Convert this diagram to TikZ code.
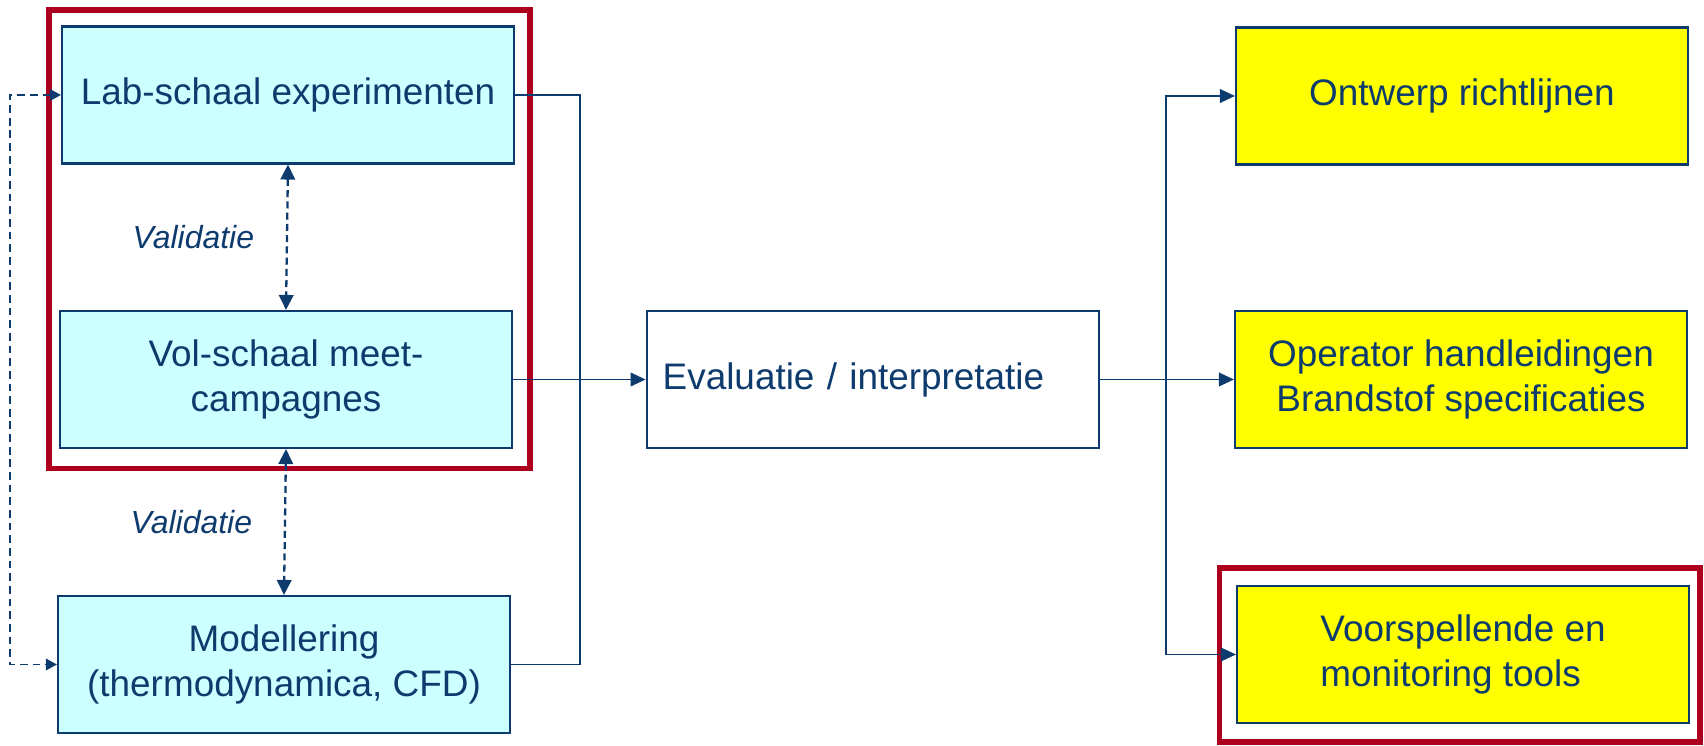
\documentclass[tikz,border=0pt]{standalone}
\usepackage{fontspec}
\setmainfont{Liberation Sans}
\usetikzlibrary{arrows.meta,positioning,calc}
\definecolor{cNavy}{HTML}{0E3B6E}
\definecolor{cCyan}{HTML}{CCFFFF}
\definecolor{cYel}{HTML}{FFFF00}
\definecolor{cRed}{HTML}{AD001F}
\tikzset{
  blk/.style={draw=cNavy, line width=0.6pt, text=cNavy, minimum width=4.52cm,
              minimum height=1.37cm, inner sep=2pt, align=center,
              font=\fontsize{10.5}{12.6}\selectfont},
  labblk/.style={blk, fill=cCyan},
  outblk/.style={blk, fill=cYel},
  evalblk/.style={blk, fill=white, text width=4.2cm, align=left},
  frame/.style={draw=cRed, line width=1.6pt},
  link/.style={line width=0.55pt, cNavy},
  arr/.style={link, -{Triangle[length=1.5mm, width=1.35mm]}},
  varr/.style={{Triangle[length=1.5mm, width=1.45mm]}-{Triangle[length=1.5mm, width=1.45mm]},
               line width=0.65pt, cNavy, dash pattern=on 2pt off 1.2pt},
  sarr/.style={{Triangle[length=1.1mm, width=1.15mm]}-{Triangle[length=1.1mm, width=1.15mm]},
               line width=0.55pt, cNavy, dash pattern=on 2.2pt off 1.4pt},
  lbl/.style={font=\fontsize{9.1}{11}\selectfont\itshape, text=cNavy}
}

\begin{document}
\begin{tikzpicture}
\useasboundingbox (0,0) rectangle (17.04,7.45);
% red frames
\draw[frame] (0.49,7.347) rectangle (5.30,2.765);
\draw[frame] (12.195,1.77) rectangle (17.00,0.03);
% input blocks
\node[labblk] (lab) at (2.88,6.50) {Lab-schaal experimenten};
\node[labblk] (vol) at (2.86,3.655) {Vol-schaal meet-\\campagnes};
\node[labblk] (model) at (2.84,0.805) {Modellering\\(thermodynamica, CFD)};
% evaluation
\node[evalblk] (eval) at (8.727,3.655) {Evaluatie / interpretatie};
% outputs
\node[outblk] (ontw) at (14.62,6.49) {Ontwerp richtlijnen};
\node[outblk] (oper) at (14.61,3.655) {Operator handleidingen\\Brandstof specificaties};
\node[outblk, align=left] (tools) at (14.63,0.905) {Voorspellende en\\monitoring tools};
% bus points
\coordinate (busL) at (5.80,3.655);
\coordinate (busR) at (11.66,3.655);
\coordinate (busD) at (0.10,3.655);
% validation
\draw[varr] (lab.south) -- node[midway, left=0.2cm, lbl] (val1) {Validatie} (vol.north);
\draw[varr] (vol.south) -- node[midway, left=0.2cm, lbl] (val2) {Validatie} (model.north);
\draw[sarr] (lab.west) -| (busD) |- (model.west);
% flow
\draw[link] (lab.east) -| (busL) |- (model.east);
\draw[arr] (vol.east) -- (eval.west);
\draw[arr] (eval.east) -- (oper.west);
\draw[arr] (busR) |- (ontw.west);
\draw[arr] (busR) |- (tools.west);
\end{tikzpicture}
\end{document}
